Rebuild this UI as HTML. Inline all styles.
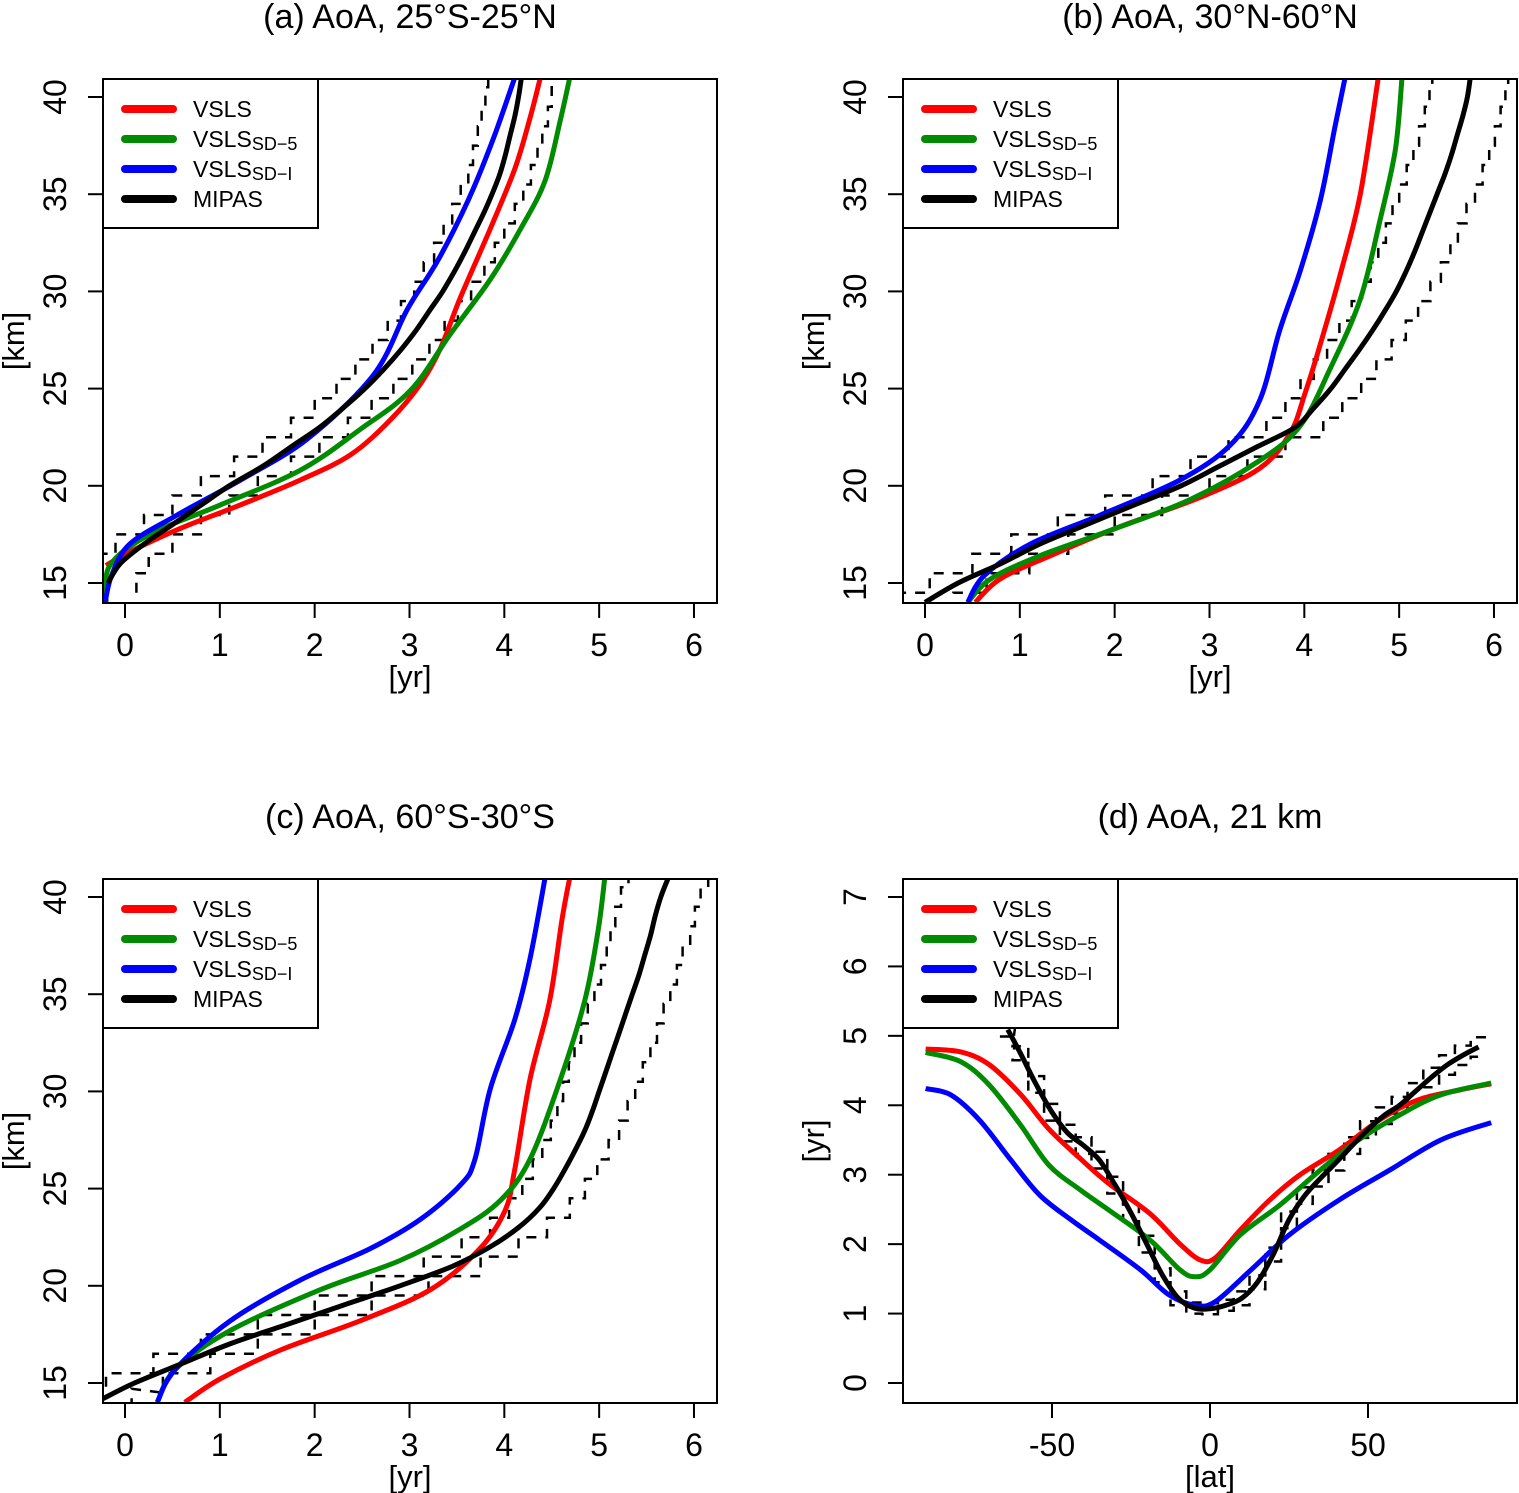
<!DOCTYPE html>
<html><head><meta charset="utf-8"><style>
html,body{margin:0;padding:0;background:#fff;}
svg{display:block;font-family:"Liberation Sans",sans-serif;}
</style></head><body>
<svg id="chart" width="1519" height="1493" viewBox="0 0 1519 1493" xmlns="http://www.w3.org/2000/svg"></svg>
<script>
// ---------- Panel (a) 25S-25N ----------
const aRedAlt=[15.9,16.6,17.8,19,20.3,21.6,23.4,25.2,27,29.6,33.2,36.3,38.9,41];
const aRedVal=[-0.2,0.05,0.58,1.21,1.85,2.38,2.8,3.11,3.32,3.53,3.85,4.11,4.27,4.38];
const aGreenAlt=[14,15.9,17.5,19,20.8,22.9,24.9,27.8,30.6,33.2,35.7,38.8,41];
const aGreenVal=[-0.2,-0.16,0.26,1.0,1.85,2.48,3.01,3.43,3.85,4.17,4.43,4.59,4.69];
const aBlueAlt=[14,15.4,17,18.5,20.3,22.4,25.7,29.1,31.6,34.7,37.8,41];
const aBlueVal=[-0.21,-0.14,0.05,0.55,1.22,1.92,2.62,2.98,3.3,3.62,3.88,4.11];
const aMipasAlt=[15,16,17,18,19,20,21,22,23,24,25,26,27,28,29,30,31,32,33,34,35,36,37,38,39,40,41];
const aMipasVal=[-0.18,-0.05,0.2,0.5,0.8,1.1,1.45,1.75,2.05,2.3,2.53,2.73,2.91,3.07,3.21,3.35,3.47,3.58,3.68,3.78,3.87,3.95,4.01,4.06,4.11,4.15,4.18];
const aMipasErr=[0.3,0.3,0.3,0.3,0.3,0.3,0.3,0.3,0.3,0.3,0.3,0.3,0.3,0.3,0.3,0.3,0.32,0.32,0.32,0.33,0.33,0.33,0.34,0.34,0.35,0.35,0.35];
// ---------- Panel (b) 30N-60N ----------
const bRedAlt=[14,15.2,16.4,17.9,19.4,20.9,22.7,24.8,27.3,30.9,35,41];
const bRedVal=[0.53,0.79,1.32,2.06,2.9,3.53,3.85,4.01,4.17,4.38,4.59,4.78];
const bGreenAlt=[14,15.2,16.4,17.7,19.3,21.3,23.1,26,29.6,33.7,37.3,41];
const bGreenVal=[0.45,0.69,1.21,1.95,2.8,3.53,3.96,4.27,4.59,4.8,4.96,5.03];
const bBlueAlt=[14,15.4,17,18.5,20.3,22.1,24.4,28,31.1,34.7,38.4,41];
const bBlueVal=[0.45,0.63,1.11,1.85,2.69,3.22,3.53,3.74,3.96,4.17,4.32,4.43];
const bMipasAlt=[14,15,16,17,18,19,20,21,22,23,24,25,26,27,28,29,30,31,32,33,34,35,36,37,38,39,40,41];
const bMipasVal=[0,0.35,0.8,1.21,1.7,2.2,2.7,3.1,3.5,3.9,4.1,4.28,4.43,4.58,4.72,4.85,4.97,5.07,5.16,5.24,5.32,5.4,5.48,5.55,5.61,5.67,5.72,5.75];
const bMipasErr=[0.3,0.3,0.3,0.3,0.3,0.3,0.3,0.3,0.3,0.3,0.3,0.32,0.33,0.34,0.35,0.35,0.36,0.37,0.38,0.38,0.39,0.4,0.4,0.4,0.4,0.4,0.4,0.4];
// ---------- Panel (c) 60S-30S ----------
const cRedAlt=[14,15.2,16.7,18.2,19.8,21.9,23.9,26,30.6,34.7,38.9,41];
const cRedVal=[0.63,1.0,1.64,2.48,3.22,3.74,4.01,4.11,4.27,4.48,4.61,4.69];
const cGreenAlt=[14,15.7,17.7,19.8,21.3,22.9,24.4,26.5,30.6,34.7,38.3,41];
const cGreenVal=[0.34,0.53,1.11,2.06,2.9,3.53,3.96,4.27,4.59,4.85,4.99,5.06];
const cBlueAlt=[14,15.7,18.2,20.3,21.9,23.4,25.2,26.5,30.1,33.7,36.8,41];
const cBlueVal=[0.34,0.53,1.11,1.85,2.58,3.11,3.54,3.69,3.85,4.11,4.27,4.43];
const cMipasAlt=[14.2,15,16,17,18,19,20,21,22,23,24,25,26,27,28,29,30,31,32,33,34,35,36,37,38,39,40,41];
const cMipasVal=[-0.23,0.1,0.6,1.1,1.7,2.3,2.9,3.45,3.85,4.15,4.37,4.52,4.64,4.75,4.85,4.93,5.0,5.07,5.14,5.21,5.28,5.35,5.42,5.48,5.54,5.59,5.65,5.73];
const cMipasErr=[0.3,0.3,0.3,0.3,0.3,0.3,0.3,0.3,0.3,0.3,0.32,0.33,0.34,0.35,0.36,0.37,0.38,0.39,0.4,0.4,0.4,0.4,0.4,0.4,0.42,0.42,0.42,0.42];
// ---------- Panel (d) 21 km ----------
const dRedLat=[-90,-79,-70,-60,-51,-41,-32,-19,-9.5,-3,1.6,9.5,19,28.5,41,54,66,79,89];
const dRedVal=[4.81,4.77,4.59,4.16,3.66,3.23,2.87,2.44,2.0,1.77,1.8,2.2,2.64,3.0,3.36,3.8,4.08,4.22,4.31];
const dGreenLat=[-90,-79,-70,-60,-51,-41,-32,-19,-9.5,-4.7,0,9.5,22,35,47,60,73,89];
const dGreenVal=[4.76,4.63,4.3,3.72,3.14,2.78,2.49,2.06,1.63,1.53,1.63,2.13,2.56,3.07,3.5,3.86,4.15,4.32];
const dBlueLat=[-90,-82,-73,-63,-54,-44,-35,-22,-13,-4.7,1.6,13,25,41,57,73,89];
const dBlueVal=[4.24,4.15,3.79,3.21,2.71,2.35,2.06,1.63,1.27,1.12,1.17,1.63,2.13,2.64,3.07,3.5,3.75];
const dMipasLat=[-64,-60,-55,-50,-45,-40,-35,-30,-25,-20,-15,-10,-5,0,5,10,15,20,25,30,35,40,45,50,55,60,65,70,75,80,85];
const dMipasVal=[5.09,4.75,4.3,3.9,3.6,3.42,3.21,2.85,2.45,2.0,1.55,1.22,1.08,1.07,1.12,1.22,1.45,1.85,2.35,2.7,2.95,3.18,3.42,3.65,3.85,4.0,4.2,4.4,4.58,4.72,4.84];
const dMipasErr=[0.1,0.1,0.12,0.12,0.12,0.12,0.12,0.12,0.12,0.12,0.1,0.1,0.08,0.08,0.08,0.1,0.1,0.1,0.12,0.12,0.12,0.12,0.12,0.12,0.12,0.12,0.12,0.14,0.14,0.14,0.14];

const svg=document.getElementById('chart');
const NS='http://www.w3.org/2000/svg';
function mk(tag,attrs,parent){const e=document.createElementNS(NS,tag);for(const k in attrs)e.setAttribute(k,attrs[k]);(parent||svg).appendChild(e);return e;}
function smooth(pts){
  if(pts.length<2)return '';
  let d='M'+pts[0][0].toFixed(1)+','+pts[0][1].toFixed(1);
  for(let i=0;i<pts.length-1;i++){
    const p0=pts[Math.max(0,i-1)],p1=pts[i],p2=pts[i+1],p3=pts[Math.min(pts.length-1,i+2)];
    const c1=[p1[0]+(p2[0]-p0[0])/6,p1[1]+(p2[1]-p0[1])/6];
    const c2=[p2[0]-(p3[0]-p1[0])/6,p2[1]-(p3[1]-p1[1])/6];
    d+='C'+c1[0].toFixed(1)+','+c1[1].toFixed(1)+' '+c2[0].toFixed(1)+','+c2[1].toFixed(1)+' '+p2[0].toFixed(1)+','+p2[1].toFixed(1);
  }
  return d;
}
function panel(cfg){
  const g=mk('g',{});
  
  
  const L=cfg.L,T=cfg.T,R=L+614,B=T+524;
  const sx=v=>cfg.x0px+(v-cfg.x0)*cfg.xs;
  const sy=v=>cfg.y0px-(v-cfg.y0)*cfg.ys;
  const clipId='clip-'+cfg.name;
  const cp=mk('clipPath',{id:clipId},g);
  mk('rect',{x:L,y:T,width:614,height:524},cp);
  const plot=mk('g',{'clip-path':'url(#'+clipId+')'},g);
  if(cfg.vertical){
    [-1,1].forEach(sg=>{
      let d='';
      cfg.mAlt.forEach((a,i)=>{
        const x=sx(cfg.mVal[i]+sg*cfg.mErr[i]);
        const ya=sy(a-0.5),yb=sy(a+0.5);
        d+=(i===0?'M':'L')+x.toFixed(1)+','+ya.toFixed(1)+'L'+x.toFixed(1)+','+yb.toFixed(1);
      });
      const p=mk('path',{d:d,fill:'none',stroke:'#000','stroke-width':2.5,'stroke-dasharray':'10,9'},plot);
      
      
    });
  } else {
    [-1,1].forEach(sg=>{
      let d='';
      cfg.mAlt.forEach((a,i)=>{
        const y=sy(cfg.mVal[i]+sg*cfg.mErr[i]);
        const xa=sx(a-2.5),xb=sx(a+2.5);
        d+=(i===0?'M':'L')+xa.toFixed(1)+','+y.toFixed(1)+'L'+xb.toFixed(1)+','+y.toFixed(1);
      });
      const p=mk('path',{d:d,fill:'none',stroke:'#000','stroke-width':2.5,'stroke-dasharray':'10,9'},plot);
      
      
    });
  }
  cfg.series.forEach(s=>{
    const pts=s.a.map((a,i)=>cfg.vertical?[sx(s.v[i]),sy(a)]:[sx(a),sy(s.v[i])]);
    const p=mk('path',{d:smooth(pts),fill:'none',stroke:s.c,'stroke-width':5,'stroke-linejoin':'round'},plot);
    
    
  });
  const box=mk('rect',{x:L,y:T,width:614,height:524,fill:'none',stroke:'#000','stroke-width':2},g);
  
  
  const xax=mk('g',{},g);
  
  
  mk('line',{x1:sx(cfg.xt[0]),x2:sx(cfg.xt[cfg.xt.length-1]),y1:B,y2:B,stroke:'#000','stroke-width':2},xax);
  cfg.xt.forEach(t=>{
    mk('line',{x1:sx(t),x2:sx(t),y1:B,y2:B+15,stroke:'#000','stroke-width':2},xax);
    const tx=mk('text',{x:sx(t),y:B+53,'font-size':32,'text-anchor':'middle'},xax);
    tx.textContent=t<0?'-'+Math.abs(t):String(t);
    
    
  });
  const xt=mk('text',{x:(L+R)/2,y:B+84,'font-size':31,'text-anchor':'middle'},xax);
  xt.textContent=cfg.xlabel;
  
  
  const yax=mk('g',{},g);
  
  
  mk('line',{x1:L,x2:L,y1:sy(cfg.yt[0]),y2:sy(cfg.yt[cfg.yt.length-1]),stroke:'#000','stroke-width':2},yax);
  cfg.yt.forEach(t=>{
    mk('line',{x1:L,x2:L-15,y1:sy(t),y2:sy(t),stroke:'#000','stroke-width':2},yax);
    const tx=mk('text',{x:0,y:0,'font-size':32,'text-anchor':'middle',transform:'translate('+(L-37)+','+sy(t)+') rotate(-90)'},yax);
    tx.textContent=String(t);
    
    
  });
  const yt=mk('text',{x:0,y:0,'font-size':31,'text-anchor':'middle',transform:'translate('+(L-79)+','+(cfg.ylabelY)+') rotate(-90)'},yax);
  yt.textContent=cfg.ylabel;
  
  
  const tt=mk('text',{x:(L+R)/2,y:T-51,'font-size':34,'text-anchor':'middle'},g);
  tt.textContent=cfg.title;
  
  
  const lg=mk('g',{},g);
  
  
  mk('rect',{x:L,y:T,width:215,height:149,fill:'#fff',stroke:'#000','stroke-width':2},lg);
  const ents=[['#ff0000','VSLS',''],['#008b00','VSLS','SD\u22125'],['#0000ff','VSLS','SD\u2212I'],['#000','MIPAS','']];
  ents.forEach((e,i)=>{
    const y=T+30+i*30;
    const le=mk('g',{},lg);
    
    
    mk('line',{x1:L+22,x2:L+70,y1:y,y2:y,stroke:e[0],'stroke-width':8,'stroke-linecap':'round'},le);
    const t=mk('text',{x:L+90,y:y+8,'font-size':23},le);
    t.textContent=e[1];
    if(e[2]){const s=mk('tspan',{'font-size':18,dy:3},t);s.textContent=e[2];}
  });
}
const seriesA=[{n:'vsls-line',c:'#ff0000',a:aRedAlt,v:aRedVal},{n:'vsls-sd5-line',c:'#008b00',a:aGreenAlt,v:aGreenVal},{n:'vsls-sdi-line',c:'#0000ff',a:aBlueAlt,v:aBlueVal},{n:'mipas-line',c:'#000',a:aMipasAlt,v:aMipasVal}];
const seriesB=[{n:'vsls-line',c:'#ff0000',a:bRedAlt,v:bRedVal},{n:'vsls-sd5-line',c:'#008b00',a:bGreenAlt,v:bGreenVal},{n:'vsls-sdi-line',c:'#0000ff',a:bBlueAlt,v:bBlueVal},{n:'mipas-line',c:'#000',a:bMipasAlt,v:bMipasVal}];
const seriesC=[{n:'vsls-line',c:'#ff0000',a:cRedAlt,v:cRedVal},{n:'vsls-sd5-line',c:'#008b00',a:cGreenAlt,v:cGreenVal},{n:'vsls-sdi-line',c:'#0000ff',a:cBlueAlt,v:cBlueVal},{n:'mipas-line',c:'#000',a:cMipasAlt,v:cMipasVal}];
const seriesD=[{n:'vsls-line',c:'#ff0000',a:dRedLat,v:dRedVal},{n:'vsls-sd5-line',c:'#008b00',a:dGreenLat,v:dGreenVal},{n:'vsls-sdi-line',c:'#0000ff',a:dBlueLat,v:dBlueVal},{n:'mipas-line',c:'#000',a:dMipasLat,v:dMipasVal}];
const xtYr=[0,1,2,3,4,5,6], ytKm=[15,20,25,30,35,40];
panel({name:'panel-a',L:103,T:79,vertical:true,x0:0,x0px:125,xs:94.83,y0:15,y0px:583,ys:19.44,xt:xtYr,yt:ytKm,xlabel:'[yr]',ylabel:'[km]',ylabelY:341,title:'(a) AoA, 25\u00B0S-25\u00B0N',series:seriesA,mAlt:aMipasAlt,mVal:aMipasVal,mErr:aMipasErr});
panel({name:'panel-b',L:903,T:79,vertical:true,x0:0,x0px:925,xs:94.83,y0:15,y0px:583,ys:19.44,xt:xtYr,yt:ytKm,xlabel:'[yr]',ylabel:'[km]',ylabelY:341,title:'(b) AoA, 30\u00B0N-60\u00B0N',series:seriesB,mAlt:bMipasAlt,mVal:bMipasVal,mErr:bMipasErr});
panel({name:'panel-c',L:103,T:879,vertical:true,x0:0,x0px:125,xs:94.83,y0:15,y0px:1383,ys:19.44,xt:xtYr,yt:ytKm,xlabel:'[yr]',ylabel:'[km]',ylabelY:1141,title:'(c) AoA, 60\u00B0S-30\u00B0S',series:seriesC,mAlt:cMipasAlt,mVal:cMipasVal,mErr:cMipasErr});
panel({name:'panel-d',L:903,T:879,vertical:false,x0:0,x0px:1210,xs:3.16,y0:0,y0px:1383,ys:69.43,xt:[-50,0,50],yt:[0,1,2,3,4,5,6,7],xlabel:'[lat]',ylabel:'[yr]',ylabelY:1141,title:'(d) AoA, 21 km',series:seriesD,mAlt:dMipasLat,mVal:dMipasVal,mErr:dMipasErr});
</script>
</body></html>
